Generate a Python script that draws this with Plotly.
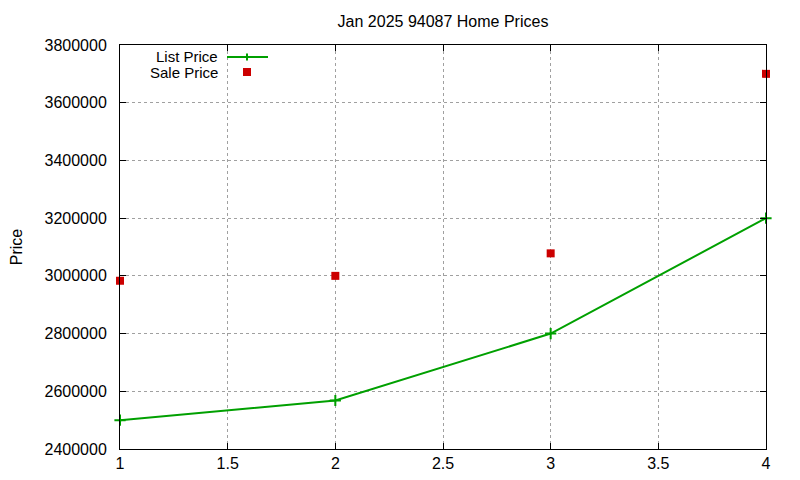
import plotly.graph_objects as go

months = [1, 2, 3, 4]
list_price = [2500000, 2568000, 2800000, 3200000]
sale_price = [2983000, 3000000, 3078000, 3700000]
x_ticks = [1, 1.5, 2, 2.5, 3, 3.5, 4]
x_tick_labels = ["1", "1.5", "2", "2.5", "3", "3.5", "4"]
y_ticks = [2400000, 2600000, 2800000, 3000000, 3200000, 3400000, 3600000, 3800000]
y_tick_labels = [str(v) for v in y_ticks]

GREEN = "#00a000"
RED = "#cc0000"
FONT = "Liberation Sans"
FS = 16

fig = go.Figure()
fig.add_trace(go.Scatter(
    x=months, y=list_price, mode="lines+markers", name="List Price",
    line=dict(color=GREEN, width=2),
    marker=dict(symbol="cross-thin", size=8, line=dict(color=GREEN, width=2), color=GREEN),
    cliponaxis=False, showlegend=False,
))
fig.add_trace(go.Scatter(
    x=months, y=sale_price, mode="markers", name="Sale Price",
    marker=dict(symbol="square", size=8, color=RED),
    cliponaxis=False, showlegend=False,
))

axis_common = dict(
    showline=True, linecolor="black", linewidth=1, mirror="allticks",
    ticks="inside", ticklen=6, tickcolor="black",
    showgrid=True, gridcolor="#a0a0a0", griddash="dot", gridwidth=1,
    zeroline=False, tickfont=dict(family=FONT, size=FS, color="black"),
    automargin=False,
)

# page is offset by ~7px (body margin), compensate
OFF = 7
L, R, T, B = 119, 35, 44, 32

fig.update_layout(
    width=800, height=480,
    margin=dict(l=L - OFF, r=R + OFF, t=T - OFF, b=B + OFF),
    paper_bgcolor="white", plot_bgcolor="white",
    font=dict(family=FONT, size=FS, color="black"),
    title=dict(text="Jan 2025 94087 Home Prices", x=0.5, xref="paper",
               y=1 - (20 - OFF) / 480, yanchor="middle", font=dict(family=FONT, size=FS)),
    xaxis=dict(range=[1, 4], tickvals=x_ticks, ticktext=x_tick_labels,
               ticklabelstandoff=0, **axis_common),
    yaxis=dict(range=[2400000, 3800000], tickvals=y_ticks, ticktext=y_tick_labels,
               ticklabelstandoff=9,
               title=dict(text="Price", standoff=27, font=dict(family=FONT, size=FS)),
               **axis_common),
    showlegend=False,
)

# Manual gnuplot-style legend
pw = 800 - L - R
ph = 480 - T - B
def px(xp):
    return (xp - L) / pw
def py(yp):
    return 1 - (yp - T) / ph

LFS = 15
fig.add_annotation(x=px(218), y=py(55.5), xref="paper", yref="paper", text="List Price",
                   showarrow=False, xanchor="right", yanchor="middle", borderpad=0,
                   font=dict(family=FONT, size=LFS))
fig.add_annotation(x=px(218), y=py(71.5), xref="paper", yref="paper", text="Sale Price",
                   showarrow=False, xanchor="right", yanchor="middle", borderpad=0,
                   font=dict(family=FONT, size=LFS))
fig.add_shape(type="line", xref="paper", yref="paper", x0=px(226), x1=px(267), y0=py(56), y1=py(56),
              line=dict(color=GREEN, width=2))
fig.add_shape(type="line", xref="paper", yref="paper", x0=px(246), x1=px(246), y0=py(52.5), y1=py(59.5),
              line=dict(color=GREEN, width=2))
fig.add_shape(type="rect", xref="paper", yref="paper", x0=px(242), x1=px(250), y0=py(67), y1=py(75),
              line=dict(width=0), fillcolor=RED)

fig.write_html("out.html")
